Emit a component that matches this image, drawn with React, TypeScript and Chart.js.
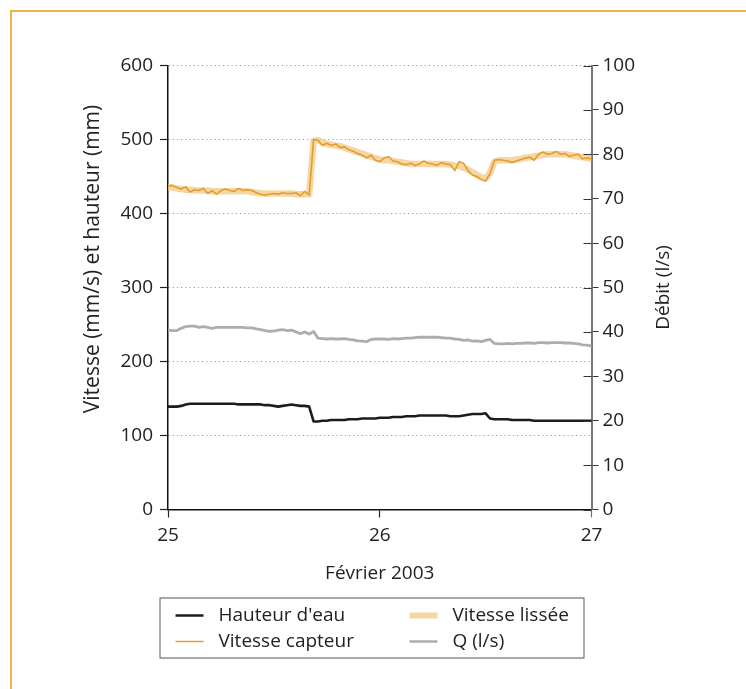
import { useEffect, useRef } from "react";
import { Chart, registerables } from "chart.js";

Chart.register(...registerables);

// ---- data ----
const dayStart = 25;
const dayEnd = 27;
const xTickValues = [25, 26, 27];
const xTitle = "Février 2003";
const yLeftTitle = "Vitesse (mm/s) et hauteur (mm)";
const yRightTitle = "Débit (l/s)";
const legendLabels = ["Hauteur d'eau", "Vitesse capteur", "Vitesse lissée", "Q (l/s)"];

// Hauteur d'eau (mm), left axis, 30-min samples from 25 to 27
const hauteur = [
  139, 139, 139, 140, 142, 143, 143, 143, 143, 143,
  143, 143, 143, 143, 143, 143, 142, 142, 142, 142,
  142, 142, 141, 141, 140, 139, 140, 141, 142, 141,
  140, 140, 139, 119, 119, 120, 120, 121, 121, 121,
  121, 122, 122, 122, 123, 123, 123, 123, 124, 124,
  124, 125, 125, 125, 126, 126, 126, 127, 127, 127,
  127, 127, 127, 127, 126, 126, 126, 127, 128, 129,
  129, 129, 130, 123, 122, 122, 122, 122, 121, 121,
  121, 121, 121, 120, 120, 120, 120, 120, 120, 120,
  120, 120, 120, 120, 120, 120, 120,
];

// Vitesse capteur (mm/s), left axis
const vitesseCapteur = [
  437, 438, 435, 433, 436, 429, 432, 431, 434, 427,
  431, 426, 431, 433, 431, 430, 434, 431, 432, 431,
  428, 426, 425, 426, 427, 426, 428, 427, 427, 428,
  424, 430, 425, 500, 499, 492, 495, 492, 494, 489,
  490, 486, 484, 481, 479, 475, 479, 472, 470, 475,
  477, 471, 470, 467, 466, 468, 465, 467, 471, 468,
  467, 465, 469, 467, 466, 458, 470, 468, 458, 452,
  450, 446, 444, 454, 472, 473, 472, 471, 469, 471,
  473, 475, 476, 472, 480, 483, 480, 481, 484, 480,
  481, 477, 479, 480, 474, 475, 474,
];

// Vitesse lissée (mm/s), left axis
const vitesseLissee = [
  436, 435, 434, 433, 432, 432, 431, 431, 431, 431,
  430, 430, 430, 430, 430, 430, 430, 430, 430, 429,
  428, 427, 427, 427, 427, 427, 427, 427, 427, 426,
  426, 426, 426, 498, 499, 496, 494, 493, 492, 491,
  489, 487, 485, 483, 481, 479, 477, 475, 473, 472,
  472, 471, 470, 469, 468, 467, 467, 467, 467, 467,
  467, 467, 467, 467, 466, 465, 464, 462, 459, 456,
  452, 449, 447, 455, 470, 472, 472, 472, 472, 473,
  474, 475, 476, 477, 478, 479, 480, 480, 480, 480,
  480, 479, 478, 477, 476, 475, 474,
];

// Q (l/s), right axis
const debitQ = [
  40.4, 40.3, 40.3, 40.8, 41.2, 41.3, 41.3, 41.0, 41.2, 41.0,
  40.8, 41.0, 41.0, 41.0, 41.0, 41.0, 41.0, 41.0, 40.9, 40.9,
  40.7, 40.5, 40.3, 40.1, 40.2, 40.4, 40.5, 40.3, 40.4, 40.0,
  39.6, 40.0, 39.5, 40.1, 38.6, 38.5, 38.4, 38.5, 38.4, 38.4,
  38.5, 38.3, 38.2, 38.0, 37.9, 37.8, 38.3, 38.4, 38.4, 38.4,
  38.3, 38.5, 38.4, 38.5, 38.6, 38.6, 38.7, 38.8, 38.8, 38.8,
  38.8, 38.8, 38.7, 38.6, 38.6, 38.4, 38.3, 38.1, 38.2, 37.9,
  38.0, 37.8, 38.1, 38.3, 37.4, 37.3, 37.3, 37.4, 37.3, 37.4,
  37.4, 37.5, 37.5, 37.4, 37.6, 37.6, 37.5, 37.6, 37.6, 37.6,
  37.5, 37.5, 37.4, 37.3, 37.1, 37.0, 36.8,
];

// ---- styles ----
const FONT = "'Open Sans', Lato, sans-serif";
const COL_HAUTEUR = "#1c1c1c";
const COL_CAPTEUR = "#e29d2c";
const COL_LISSEE = "rgba(240, 198, 125, 0.7)";
const COL_Q = "#adadad";
const FRAME = "#efb24d";

function toPoints(values: number[]) {
  const n = values.length;
  return values.map((v, i) => ({ x: dayStart + ((dayEnd - dayStart) * i) / (n - 1), y: v }));
}

const decorPlugin = {
  id: "decor",
  afterDraw(chart: any) {
    const { ctx, chartArea } = chart;
    const yR = chart.scales.yR;
    ctx.save();
    // inner part of right-axis ticks
    ctx.strokeStyle = "#333";
    ctx.lineWidth = 1;
    yR.ticks.forEach((t: any) => {
      const py = Math.round(yR.getPixelForValue(t.value)) + 0.5;
      ctx.beginPath();
      ctx.moveTo(chartArea.right - 8, py);
      ctx.lineTo(chartArea.right, py);
      ctx.stroke();
    });

    // titles
    ctx.fillStyle = "#222";
    ctx.textAlign = "center";
    ctx.textBaseline = "middle";
    ctx.save();
    ctx.font = `21px ${FONT}`;
    ctx.translate(chartArea.left - 75, 259);
    ctx.rotate(-Math.PI / 2);
    ctx.fillText(yLeftTitle, 0, 0);
    ctx.restore();
    ctx.font = `19px ${FONT}`;
    ctx.save();
    ctx.translate(chartArea.right + 72.5, (chartArea.top + chartArea.bottom) / 2);
    ctx.rotate(-Math.PI / 2);
    ctx.fillText(yRightTitle, 0, 0);
    ctx.restore();
    ctx.fillText(xTitle, (chartArea.left + chartArea.right) / 2, chartArea.bottom + 64);

    // legend
    const bx = chartArea.left - 8.5;
    const by = chartArea.bottom + 88;
    const bw = 424;
    const bh = 60;
    ctx.strokeStyle = "#555";
    ctx.lineWidth = 1;
    ctx.strokeRect(bx + 0.5, by + 0.5, bw, bh);
    const items = [
      { label: legendLabels[0], color: COL_HAUTEUR, width: 2.5, col: 0, row: 0 },
      { label: legendLabels[1], color: COL_CAPTEUR, width: 1.5, col: 0, row: 1 },
      { label: legendLabels[2], color: COL_LISSEE, width: 6, col: 1, row: 0 },
      { label: legendLabels[3], color: COL_Q, width: 2.5, col: 1, row: 1 },
    ];
    ctx.textAlign = "left";
    items.forEach((it) => {
      const x0 = bx + 16 + it.col * 234;
      const yy = by + 18 + it.row * 26;
      ctx.strokeStyle = it.color;
      ctx.lineWidth = it.width;
      ctx.beginPath();
      ctx.moveTo(x0, yy);
      ctx.lineTo(x0 + 28, yy);
      ctx.stroke();
      ctx.fillStyle = "#222";
      ctx.fillText(it.label, x0 + 43, yy);
    });
    ctx.restore();
  },
};

export default function App() {
  const ref = useRef<HTMLCanvasElement>(null);
  useEffect(() => {
    if (!ref.current) return;
    const chart = new Chart(ref.current, {
      type: "line",
      data: {
        datasets: [
          {
            label: legendLabels[0],
            data: toPoints(hauteur),
            borderColor: COL_HAUTEUR,
            borderWidth: 2.6,
            yAxisID: "y",
            order: 1,
          },
          {
            label: legendLabels[1],
            data: toPoints(vitesseCapteur),
            borderColor: COL_CAPTEUR,
            borderWidth: 1.6,
            yAxisID: "y",
            order: 2,
          },
          {
            label: legendLabels[2],
            data: toPoints(vitesseLissee),
            borderColor: COL_LISSEE,
            borderWidth: 6.5,
            yAxisID: "y",
            order: 3,
          },
          {
            label: legendLabels[3],
            data: toPoints(debitQ),
            borderColor: COL_Q,
            borderWidth: 2.8,
            yAxisID: "yR",
            order: 4,
          },
        ],
      },
      options: {
        responsive: false,
        animation: false,
        events: [],
        layout: { padding: { top: 65.5, left: 0, right: 0, bottom: 0 } },
        elements: {
          point: { radius: 0 },
          line: { tension: 0, borderJoinStyle: "round", borderCapStyle: "round" },
        },
        plugins: { legend: { display: false }, tooltip: { enabled: false } },
        scales: {
          x: {
            type: "linear",
            min: dayStart,
            max: dayEnd,
            afterFit: (s: any) => {
              s.height = 179.5;
            },
            afterBuildTicks: (s: any) => {
              s.ticks = xTickValues.map((v) => ({ value: v }));
            },
            ticks: {
              color: "#222",
              font: { family: FONT, size: 19 },
              padding: 7,
              maxRotation: 0,
            },
            grid: {
              drawOnChartArea: false,
              tickLength: 8,
              tickColor: (c: any) => (c.index === 2 ? "#777" : "#222"),
              tickWidth: 1.2,
            },
            border: { color: "#111", width: 1.5 },
          },
          y: {
            type: "linear",
            position: "left",
            min: 0,
            max: 600,
            afterFit: (s: any) => {
              s.width = 168;
            },
            ticks: {
              stepSize: 100,
              color: "#222",
              font: { family: FONT, size: 19 },
              padding: 7,
            },
            grid: {
              color: "#999",
              lineWidth: 1,
              tickLength: 8,
              tickColor: "#222",
              tickWidth: 1.2,
            },
            border: { color: "#111", width: 1.5, dash: [1.2, 3] },
          },
          yR: {
            type: "linear",
            position: "right",
            min: 0,
            max: 100,
            afterFit: (s: any) => {
              s.width = 154.5;
            },
            ticks: {
              stepSize: 10,
              color: "#222",
              font: { family: FONT, size: 19 },
              padding: 4,
            },
            grid: {
              drawOnChartArea: false,
              tickLength: 7,
              tickColor: "#333",
              tickWidth: 1,
            },
            border: { color: "#777", width: 2 },
          },
        },
      },
      plugins: [decorPlugin],
    } as any);
    return () => chart.destroy();
  }, []);

  return (
    <div
      style={{
        position: "absolute",
        left: 0,
        top: 0,
        width: 746,
        height: 689,
        overflow: "hidden",
        background: "#fff",
      }}
    >
      <div
        style={{
          position: "absolute",
          left: 10,
          top: 10,
          width: 800,
          height: 800,
          borderLeft: `2px solid ${FRAME}`,
          borderTop: `2px solid ${FRAME}`,
        }}
      />
      <canvas
        ref={ref}
        width={746}
        height={689}
        style={{ position: "absolute", left: 0, top: 0, width: 746, height: 689 }}
      />
    </div>
  );
}
